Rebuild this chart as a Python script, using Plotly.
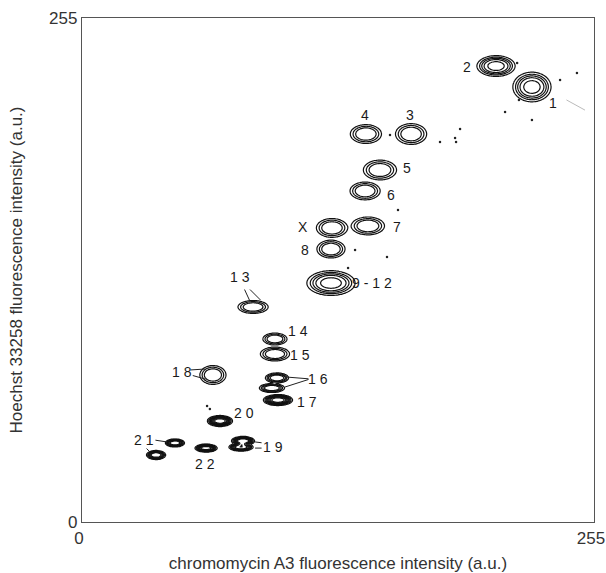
import numpy as np
import plotly.graph_objects as go

# ---- data (chromomycin A3 = x, Hoechst 33258 = y, 0..255 a.u.) ----
clusters = ["1", "2", "3", "4", "5", "6", "7", "X", "8", "9-12",
            "13", "14", "15", "16a", "16b", "17", "18", "20",
            "19a", "19b", "21a", "21b", "22"]
cx = [224.1, 206.2, 163.9, 141.4, 148.4, 141.0, 142.4, 124.5, 124.0, 124.0,
      85.2, 96.1, 96.1, 97.1, 94.6, 97.6, 65.2, 68.7,
      80.2, 79.2, 46.3, 36.9, 61.8]
cy = [220.1, 230.7, 196.3, 196.3, 178.1, 167.5, 149.8, 148.8, 138.1, 120.9,
      108.8, 92.6, 85.0, 72.9, 67.8, 61.7, 74.4, 51.1,
      41.0, 37.9, 40.0, 33.9, 37.4]
# full width / height of outermost contour (a.u.)
wx = [19.0, 19.0, 15.5, 15.5, 16.5, 15.0, 16.5, 15.5, 14.0, 24.0,
      15.0, 12.0, 14.5, 11.5, 12.5, 14.5, 13.0, 12.5,
      11.5, 12.0, 9.5, 9.5, 11.0]
wy = [15.0, 10.5, 10.5, 9.5, 10.0, 9.0, 9.0, 9.5, 9.0, 12.5,
      6.5, 6.0, 7.0, 5.0, 4.5, 5.5, 9.5, 5.5,
      4.5, 4.0, 4.0, 4.5, 4.0]
peak = [1.5, 1.5, 1.1, 1.1, 1.1, 1.1, 1.1, 1.1, 1.1, 1.5,
        1.1, 1.1, 1.1, 1.4, 1.4, 2.5, 1.1, 2.5,
        2.3, 2.3, 2.0, 2.0, 2.5]

# isolated events
ev_x = [153.4, 178.3, 186.3, 157.4, 151.9, 132.5, 136.0, 210.7, 224.1, 188.3,
        185.8, 217.6, 238.1, 246.5, 216.7, 62.3, 63.7]
ev_y = [195.8, 192.3, 192.3, 157.9, 134.1, 128.5, 137.6, 207.4, 203.4, 198.8,
        194.3, 213.5, 223.6, 227.2, 232.2, 58.7, 57.2]

# labels
lab_text = ["1", "2", "3", "4", "5", "6", "7", "X", "8", "9 - 1 2",
            "1 3", "1 4", "1 5", "1 6", "1 7", "1 8", "2 0", "1 9", "2 1", "2 2"]
lab_x = [234.6, 191.7, 163.4, 140.9, 161.9, 153.9, 156.9, 110.1, 111.1, 144.4,
         78.7, 107.6, 108.6, 117.5, 112.1, 49.8, 80.7, 95.1, 30.9, 61.3]
lab_y = [212.0, 230.2, 205.9, 205.9, 179.1, 165.4, 149.3, 149.3, 137.6, 120.9,
         124.0, 96.6, 84.5, 72.4, 60.7, 75.9, 55.1, 37.9, 41.5, 29.3]

# leader lines: (head x, head y) in a.u., tail offsets in px
lead_x = [83.6, 88.9, 61.4, 61.4, 101.1, 101.1, 86.2, 86.2, 42.3, 33.9, 250.5]
lead_y = [111.8, 112.3, 77.4, 72.3, 73.4, 68.3, 40.5, 37.4, 40.5, 35.4, 208.4]
lead_ax = [-6, -12, -16, -14, 25, 25, 8, 8, -13, -5, -20]
lead_ay = [-13, -12, 1, -4, 2, -8, 1, 0, -2, -5, -11]

LEVEL0 = 0.2
P = 2.0  # flat-topped cluster profile

grid = np.arange(0, 255.5, 0.5)
GX, GY = np.meshgrid(grid, grid)
Z = np.zeros_like(GX)
for x0, y0, w, h, a in zip(cx, cy, wx, wy, peak):
    r0 = np.sqrt(np.log(a / LEVEL0) ** (1 / P))
    sx = (w / 2) / r0
    sy = (h / 2) / r0
    q = (GX - x0) ** 2 / sx ** 2 + (GY - y0) ** 2 / sy ** 2
    Z += a * np.exp(-np.minimum(q, 50) ** P)
Z = np.round(Z, 3)

FONT = "Liberation Sans, Arial, Helvetica, sans-serif"
INK = "#1a1a1a"

fig = go.Figure()
fig.add_trace(go.Contour(
    x=grid, y=grid, z=Z,
    contours=dict(start=LEVEL0, end=3.0, size=0.3, coloring="lines"),
    colorscale=[[0, "#111"], [1, "#111"]],
    line=dict(width=1.2),
    showscale=False, hoverinfo="skip",
))
fig.add_trace(go.Scatter(
    x=ev_x, y=ev_y, mode="markers",
    marker=dict(size=2.5, color="#222"), hoverinfo="skip", showlegend=False,
))

for t, x, y in zip(lab_text, lab_x, lab_y):
    fig.add_annotation(x=x, y=y, text=t, showarrow=False,
                       font=dict(family=FONT, size=14, color=INK))
for i, (x, y, ax, ay) in enumerate(zip(lead_x, lead_y, lead_ax, lead_ay)):
    fig.add_annotation(x=x, y=y, ax=ax, ay=ay, text="", showarrow=True,
                       arrowhead=0, arrowwidth=1,
                       arrowcolor="#bbb" if i == len(lead_x) - 1 else "#222")

axis_common = dict(range=[0, 255], tickvals=[0, 255], ticktext=["0", "255"],
                   showgrid=False, zeroline=False, showline=True, mirror=True,
                   linecolor="#555", linewidth=1.3, ticks="", automargin=False,
                   ticklabeloverflow="allow",
                   tickfont=dict(family=FONT, size=17, color="#333"))
fig.update_xaxes(**axis_common, ticklabelstandoff=0, ticklabelshift=-3,
                 title=dict(text="chromomycin A3 fluorescence intensity (a.u.)",
                            font=dict(family=FONT, size=17, color="#333"), standoff=12))
fig.update_yaxes(**axis_common, ticklabelstandoff=0,
                 title=dict(text="Hoechst 33258 fluorescence intensity (a.u.)",
                            font=dict(family=FONT, size=17, color="#333"), standoff=22))
fig.update_layout(width=606, height=573,
                  margin=dict(l=82, r=12, t=18, b=51),
                  plot_bgcolor="white", paper_bgcolor="white",
                  showlegend=False)
fig.write_html("out.html",
               config={"displayModeBar": False},
               post_script="document.body.style.margin='0';"
                           "document.body.style.overflow='hidden';")
